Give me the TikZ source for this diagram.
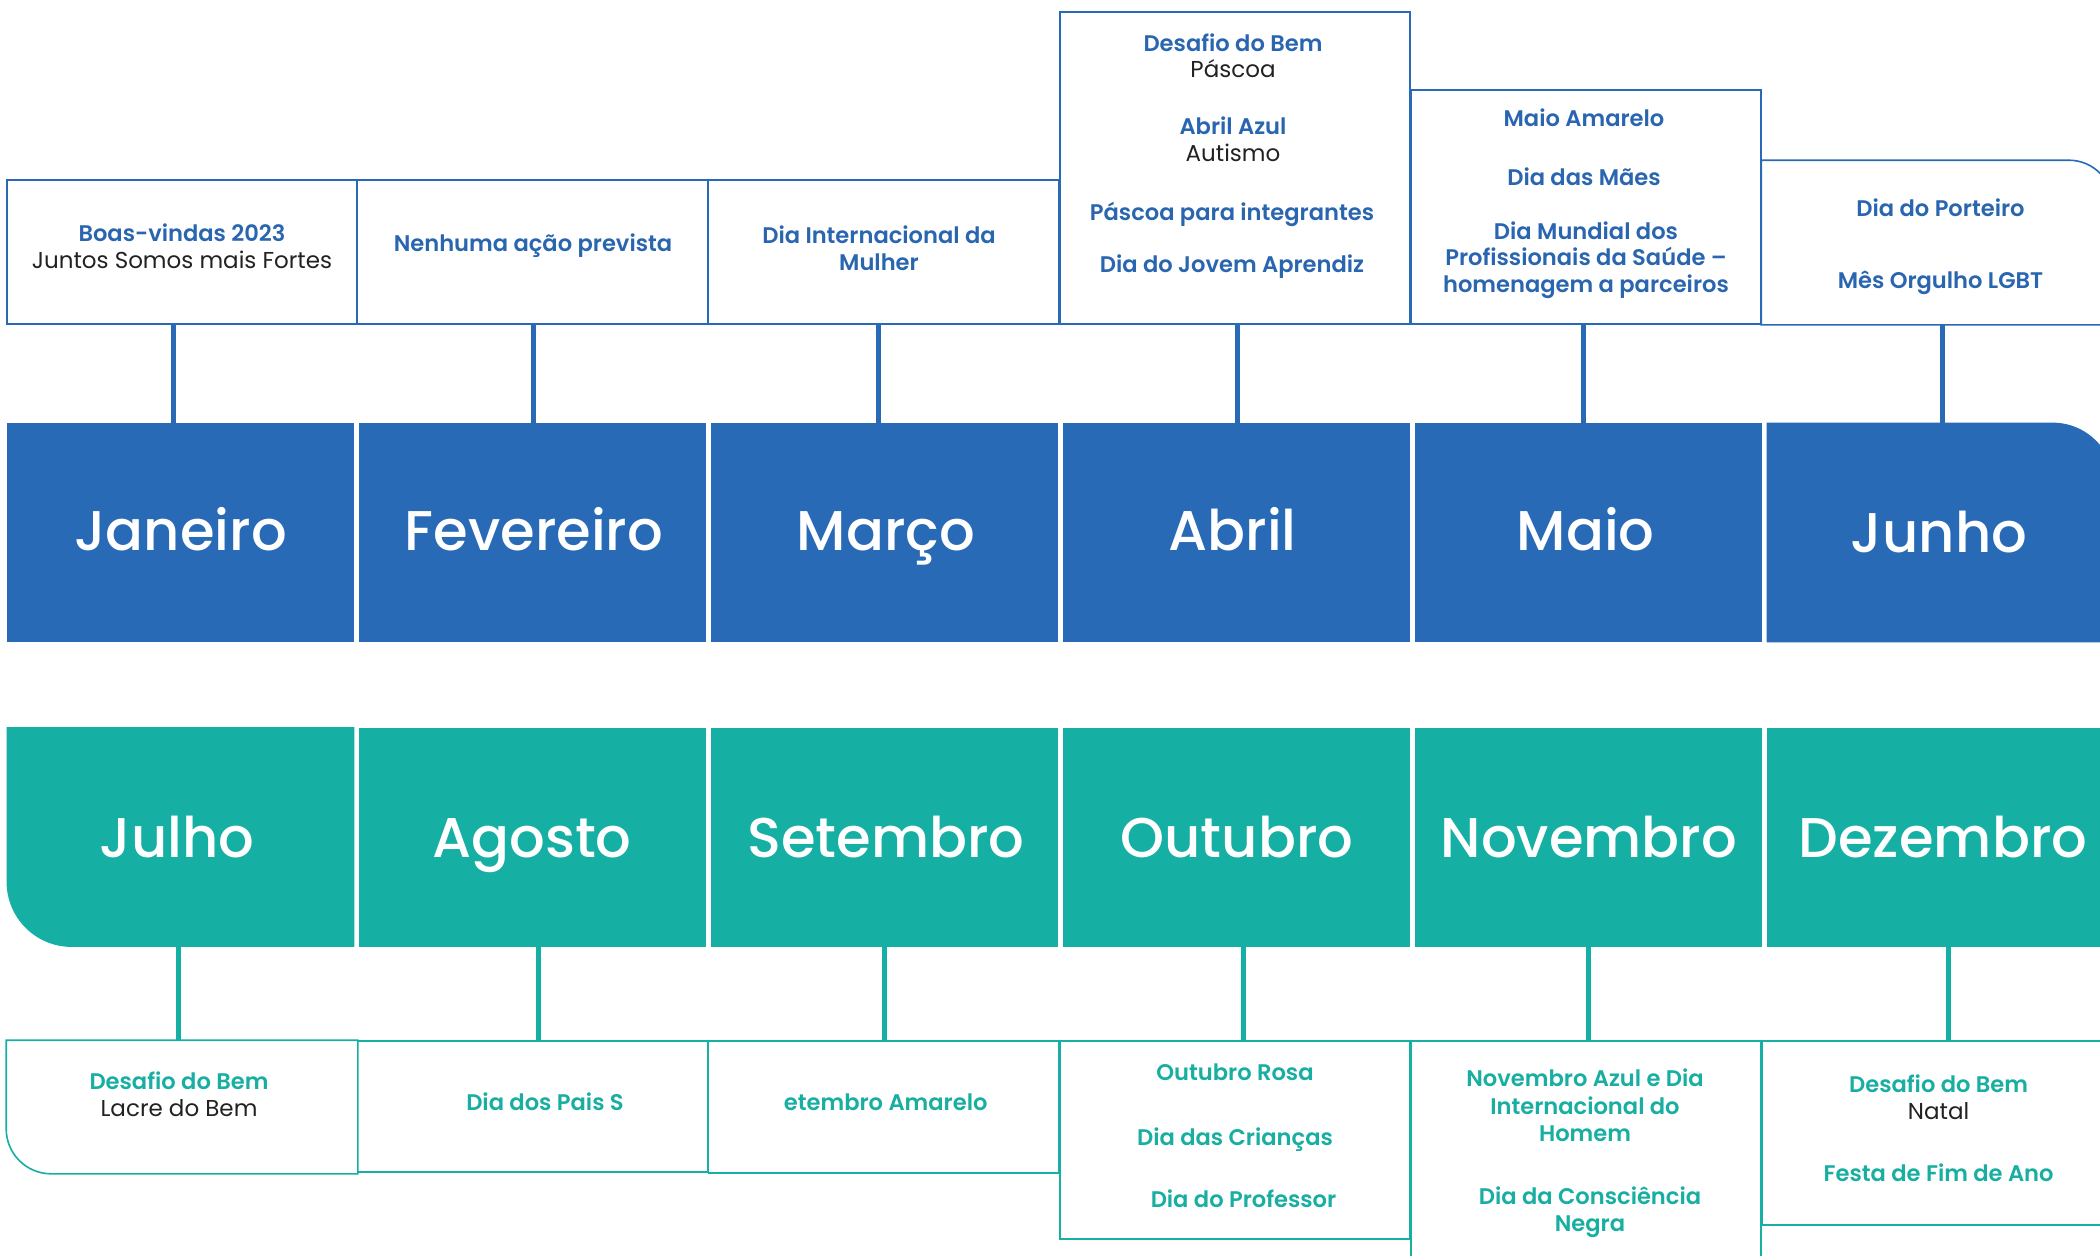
\documentclass[tikz,border=0pt]{standalone}
\usepackage{fontspec}
\setmainfont{Poppins}
\IfFontExistsTF{Poppins SemiBold}{\newfontfamily\semibf{Poppins SemiBold}}{\newfontfamily\semibf{Poppins}[FakeBold=1.2]}
\IfFontExistsTF{Poppins Medium}{\newfontfamily\mediumf{Poppins Medium}}{\newfontfamily\mediumf{Poppins}}
\usetikzlibrary{calc,backgrounds}
\definecolor{mblue}{HTML}{286AB6}
\definecolor{mteal}{HTML}{16AFA4}
\definecolor{tblue}{HTML}{2A66B0}
\definecolor{tteal}{HTML}{18AFA2}
\definecolor{tdark}{HTML}{222222}
\tikzset{
  monthbox/.style={rectangle, minimum width=173.5pt, minimum height=109.5pt, inner sep=0pt, draw=none},
  monthlbl/.style={anchor=base, inner sep=0pt, text=white, font=\mediumf\fontsize{28}{30}\selectfont},
  evbox/.style={rectangle, inner sep=0pt, minimum width=175pt, line width=0.8pt},
  evb/.style={anchor=base, inner sep=0pt, text=tblue, font=\semibf\fontsize{11.3}{13}\selectfont},
  evt/.style={anchor=base, inner sep=0pt, text=tteal, font=\semibf\fontsize{11.3}{13}\selectfont},
  evn/.style={anchor=base, inner sep=0pt, text=tdark, font=\fontsize{11.5}{13}\selectfont},
  conb/.style={draw=mblue, line width=2.5pt},
  cont/.style={draw=mteal, line width=2.5pt},
}
\begin{document}
\begin{tikzpicture}[x=0.5pt,y=-0.5pt]
\useasboundingbox (0,0) rectangle (2100,1255);
\fill[white] (0,0) rectangle (2100,1255);
\clip (0,0) rectangle (2100,1255);

% ---------- month boxes ----------
\node[monthbox, fill=mblue] (m1) at (180.5,532.5) {};
\node[monthbox, fill=mblue] (m2) at (532.5,532.5) {};
\node[monthbox, fill=mblue] (m3) at (884.5,532.5) {};
\node[monthbox, fill=mblue] (m4) at (1236.5,532.5) {};
\node[monthbox, fill=mblue] (m5) at (1588.5,532.5) {};
\node[monthbox] (m6) at (1940.5,532.5) {};
\fill[mblue] (m6.south west) -- (m6.north west) -- ($(m6.north east)+(-62,0)$)
  .. controls +(34.2,0) and +(0,-34.2) .. ($(m6.north east)+(0,62)$) -- (m6.south east) -- cycle;
\node[monthbox] (m7) at (180.5,837) {};
\fill[mteal] (m7.north west) -- (m7.north east) -- (m7.south east) -- ($(m7.south west)+(65,0)$)
  .. controls +(-35.9,0) and +(0,35.9) .. ($(m7.south west)+(0,-65)$) -- cycle;
\node[monthbox, fill=mteal] (m8) at (532.5,837) {};
\node[monthbox, fill=mteal] (m9) at (884.5,837) {};
\node[monthbox, fill=mteal] (m10) at (1236.5,837) {};
\node[monthbox, fill=mteal] (m11) at (1588.5,837) {};
\node[monthbox, fill=mteal] (m12) at (1940.5,837) {};

\node[monthlbl] (l1) at (180.5,550) {Janeiro};
\node[monthlbl] (l2) at (534,550) {Fevereiro};
\node[monthlbl] (l3) at (886,550) {Março};
\node[monthlbl] (l4) at (1232.7,550) {Abril};
\node[monthlbl] (l5) at (1585.6,550) {Maio};
\node[monthlbl] (l6) at (1939,552) {Junho};
\node[monthlbl] (l7) at (177,857) {Julho};
\node[monthlbl] (l8) at (532,857) {Agosto};
\node[monthlbl] (l9) at (886,857) {Setembro};
\node[monthlbl] (l10) at (1237,857) {Outubro};
\node[monthlbl] (l11) at (1589,857) {Novembro};
\node[monthlbl] (l12) at (1943,857) {Dezembro};

% ---------- event boxes (top) ----------
\node[evbox, draw=mblue, minimum height=72pt] (tb1) at (182,252) {};
\node[evbox, draw=mblue, minimum height=72pt] (tb2) at (532.5,252) {};
\node[evbox, draw=mblue, minimum height=72pt] (tb3) at (883.5,252) {};
\node[evbox, draw=mblue, minimum height=156pt] (tb4) at (1235,168) {};
\node[evbox, draw=mblue, minimum height=117pt] (tb5) at (1586,207) {};
\node[evbox, minimum height=81.5pt] (tb6) at (1937,242.5) {};
\draw[mblue, line width=0.8pt] (tb6.south west) -- (tb6.north west) -- ($(tb6.north east)+(-44,0)$)
  .. controls +(24.3,0) and +(0,-24.3) .. ($(tb6.north east)+(0,44)$) -- (tb6.south east) -- cycle;

% ---------- event boxes (bottom) ----------
\node[evbox, minimum height=66pt] (bb1) at (182,1107) {};
\draw[mteal, line width=0.8pt] (bb1.north west) -- (bb1.north east) -- (bb1.south east) -- ($(bb1.south west)+(45,0)$)
  .. controls +(-24.9,0) and +(0,24.9) .. ($(bb1.south west)+(0,-45)$) -- cycle;
\node[evbox, draw=mteal, minimum height=65.5pt] (bb2) at (532.5,1106.5) {};
\node[evbox, draw=mteal, minimum height=66pt] (bb3) at (883.5,1107) {};
\node[evbox, draw=mteal, minimum height=99pt] (bb4) at (1235,1140) {};
\node[evbox, draw=mteal, minimum height=117pt] (bb5) at (1586,1158) {};
\node[evbox, draw=mteal, minimum height=92pt] (bb6) at (1937,1133) {};

% ---------- connectors ----------
\draw[conb] (tb1.south -| 173,0) -- (m1.north -| 173,0);
\draw[conb] (tb2.south -| 533,0) -- (m2.north -| 533,0);
\draw[conb] (tb3.south -| 878,0) -- (m3.north -| 878,0);
\draw[conb] (tb4.south -| 1237,0) -- (m4.north -| 1237,0);
\draw[conb] (tb5.south -| 1583,0) -- (m5.north -| 1583,0);
\draw[conb] (tb6.south -| 1942,0) -- (m6.north -| 1942,0);
\draw[cont] (m7.south -| 178.5,0) -- (bb1.north -| 178.5,0);
\draw[cont] (m8.south -| 538,0) -- (bb2.north -| 538,0);
\draw[cont] (m9.south -| 884,0) -- (bb3.north -| 884,0);
\draw[cont] (m10.south -| 1243,0) -- (bb4.north -| 1243,0);
\draw[cont] (m11.south -| 1588,0) -- (bb5.north -| 1588,0);
\draw[cont] (m12.south -| 1948,0) -- (bb6.north -| 1948,0);

% ---------- texts top ----------
\node[evb] (t1a) at (182,241) {Boas-vindas 2023};
\node[evn] (t1b) at (182,268) {Juntos Somos mais Fortes};
\node[evb] (t2a) at (533,251) {Nenhuma ação prevista};
\node[evb] (t3a) at (879,243) {Dia Internacional da};
\node[evb] (t3b) at (879,270.5) {Mulher};
\node[evb] (t4a) at (1233,51) {Desafio do Bem};
\node[evn] (t4b) at (1233,77.7) {Páscoa};
\node[evb] (t4c) at (1233,134.3) {Abril Azul};
\node[evn] (t4d) at (1233,161.7) {Autismo};
\node[evb] (t4e) at (1232,220.7) {Páscoa para integrantes};
\node[evb] (t4f) at (1232,272.3) {Dia do Jovem Aprendiz};
\node[evb] (t5a) at (1584,126.7) {Maio Amarelo};
\node[evb] (t5b) at (1584,185.3) {Dia das Mães};
\node[evb] (t5c) at (1586,239) {Dia Mundial dos};
\node[evb] (t5d) at (1586,265.7) {Profissionais da Saúde –};
\node[evb] (t5e) at (1586,292.7) {homenagem a parceiros};
\node[evb] (t6a) at (1940.5,216.7) {Dia do Porteiro};
\node[evb] (t6b) at (1940.5,288.7) {Mês Orgulho LGBT};

% ---------- texts bottom ----------
\node[evt] (b1a) at (179,1089.3) {Desafio do Bem};
\node[evn] (b1b) at (179,1116.7) {Lacre do Bem};
\node[evt] (b2a) at (545,1110.7) {Dia dos Pais S};
\node[evt] (b3a) at (885.7,1110.7) {etembro Amarelo};
\node[evt] (b4a) at (1235,1080.7) {Outubro Rosa};
\node[evt] (b4b) at (1235,1145.7) {Dia das Crianças};
\node[evt] (b4c) at (1243.5,1207.3) {Dia do Professor};
\node[evt] (b5a) at (1585,1086.7) {Novembro Azul e Dia};
\node[evt] (b5b) at (1585,1114) {Internacional do};
\node[evt] (b5c) at (1585,1141) {Homem};
\node[evt] (b5d) at (1590,1204) {Dia da Consciência};
\node[evt] (b5e) at (1590,1231) {Negra};
\node[evt] (b6a) at (1938.6,1092.3) {Desafio do Bem};
\node[evn] (b6b) at (1938.6,1119) {Natal};
\node[evt] (b6c) at (1938.6,1181.7) {Festa de Fim de Ano};
\end{tikzpicture}
\end{document}
